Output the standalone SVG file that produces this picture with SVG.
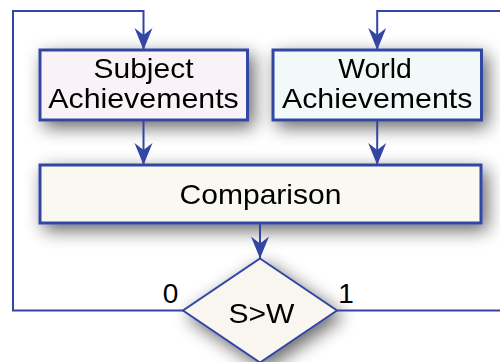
<svg xmlns="http://www.w3.org/2000/svg" width="500" height="362" viewBox="0 0 500 362">
<style>
.box{stroke:#3346a3;stroke-width:3}
.dia{stroke:#3346a3;stroke-width:2}
.conn{fill:none;stroke:#3346a3;stroke-width:2}
.t{font-family:"Liberation Sans",Arial,sans-serif;font-size:28px;fill:#000;text-anchor:middle}
</style>
<defs>
<filter id="sh" x="-30%" y="-50%" width="170%" height="210%">
<feGaussianBlur in="SourceAlpha" stdDeviation="9"/>
<feOffset dx="5" dy="6" result="b"/>
<feComponentTransfer><feFuncA type="linear" slope="0.6"/></feComponentTransfer>
<feMerge><feMergeNode/><feMergeNode in="SourceGraphic"/></feMerge>
</filter>
<marker id="arr" markerUnits="userSpaceOnUse" markerWidth="24" markerHeight="20" viewBox="-23 -10 24 20" refX="0" refY="0" orient="auto">
<path d="M0,0 L-22,-9 L-15,0 L-22,9 Z" fill="#3346a3"/>
</marker>
</defs>
<rect width="500" height="362" fill="#ffffff"/>
<g id="subject" filter="url(#sh)">
<rect class="box" x="40" y="50" width="207.5" height="70" fill="#f9f3f8"/>
<text class="t" x="143.5" y="78.3" textLength="100" lengthAdjust="spacingAndGlyphs">Subject</text>
<text class="t" x="143.5" y="108.3" textLength="190.5" lengthAdjust="spacingAndGlyphs">Achievements</text>
</g>
<g id="world" filter="url(#sh)">
<rect class="box" x="273" y="50" width="208.5" height="70" fill="#f1f9f9"/>
<text class="t" x="375" y="78.3" textLength="73.5" lengthAdjust="spacingAndGlyphs">World</text>
<text class="t" x="377.2" y="108.3" textLength="190.5" lengthAdjust="spacingAndGlyphs">Achievements</text>
</g>
<g id="comparison" filter="url(#sh)">
<rect class="box" x="40" y="165" width="441" height="58" fill="#f9f8f1"/>
<text class="t" x="260.5" y="204" textLength="162" lengthAdjust="spacingAndGlyphs">Comparison</text>
</g>
<g id="decision" filter="url(#sh)">
<polygon class="dia" points="260,258.5 337,310.5 260,362.5 183,310.5" fill="#f9f6f0"/>
<text class="t" x="261.5" y="323.3" textLength="66" lengthAdjust="spacingAndGlyphs">S&gt;W</text>
</g>
<g id="connectors">
<path class="conn" d="M183,310.5 H13 V11 H143.5 V50" marker-end="url(#arr)"/>
<path class="conn" d="M337,310.5 H512 V11 H377.2 V50" marker-end="url(#arr)"/>
<path class="conn" d="M143.5,120 V165" marker-end="url(#arr)"/>
<path class="conn" d="M377.2,120 V165" marker-end="url(#arr)"/>
<path class="conn" d="M260,223 V258.5" marker-end="url(#arr)"/>
<text class="t" x="170.5" y="302.7">0</text>
<text class="t" x="346" y="302.7">1</text>
</g>
</svg>
